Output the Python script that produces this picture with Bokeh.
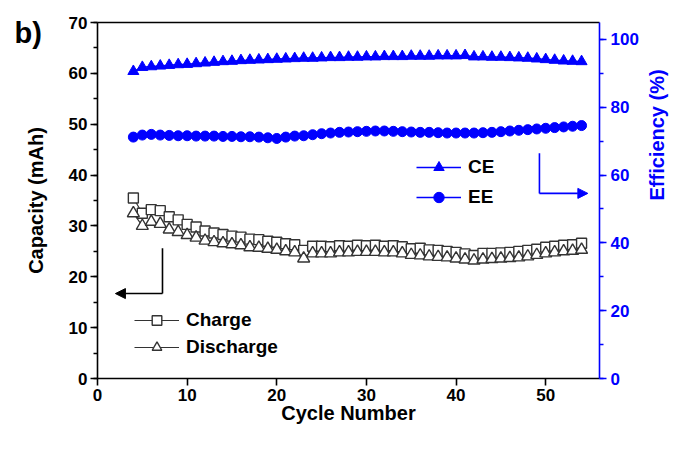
import math
from bokeh.plotting import figure
from bokeh.models import (Range1d, LinearAxis, Legend, LegendItem, Arrow, NormalHead,
                          Label, SingleIntervalTicker, FixedTicker)
from bokeh.embed import file_html
from bokeh.resources import INLINE

cycles = list(range(4, 55))
charge = [35.5, 32.5, 33.2, 33.0, 31.8, 31.2, 30.3, 29.8, 29.0, 28.6,
          28.3, 28.0, 27.8, 27.4, 27.3, 27.0, 26.8, 26.5, 26.3, 25.2,
          26.0, 26.0, 25.9, 26.1, 26.0, 26.2, 26.1, 26.2, 26.0, 26.1,
          25.9, 25.5, 25.6, 25.3, 25.2, 25.0, 24.8, 24.5, 24.2, 24.6,
          24.6, 24.7, 24.8, 25.0, 25.2, 25.4, 25.8, 26.0, 26.2, 26.3, 26.6]
discharge = [32.5, 30.0, 30.8, 30.4, 29.3, 28.8, 28.2, 27.7, 27.1, 26.8,
             26.6, 26.4, 26.2, 25.8, 25.7, 25.5, 25.3, 25.0, 24.8, 23.6,
             24.6, 24.6, 24.6, 24.8, 24.8, 24.9, 24.9, 24.9, 24.8, 24.8,
             24.6, 24.3, 24.2, 24.0, 23.9, 23.8, 23.6, 23.4, 23.2, 23.4,
             23.5, 23.6, 23.7, 23.8, 24.0, 24.3, 24.6, 24.8, 25.0, 25.1, 25.3]
ce = [90.6, 91.8, 92.0, 92.2, 92.4, 92.6, 92.7, 92.9, 93.1, 93.3,
      93.5, 93.6, 93.8, 93.9, 94.0, 94.1, 94.2, 94.3, 94.4, 94.5,
      94.5, 94.6, 94.7, 94.7, 94.8, 94.8, 94.9, 94.9, 95.0, 95.0,
      95.0, 95.1, 95.1, 95.1, 95.2, 95.2, 95.2, 95.3, 94.9, 94.9,
      94.8, 94.8, 94.7, 94.6, 94.5, 94.3, 94.1, 93.9, 93.7, 93.6, 93.5]
ee = [71.2, 71.8, 72.0, 71.8, 71.7, 71.6, 71.6, 71.5, 71.5, 71.5,
      71.4, 71.4, 71.3, 71.3, 71.2, 71.0, 70.8, 71.2, 71.5, 71.6,
      71.9, 72.2, 72.4, 72.6, 72.7, 72.8, 72.9, 73.0, 73.0, 72.9,
      72.8, 72.7, 72.6, 72.6, 72.5, 72.4, 72.4, 72.4, 72.4, 72.5,
      72.6, 72.8, 73.0, 73.2, 73.4, 73.6, 73.8, 74.0, 74.2, 74.4, 74.6]

X_LIM = (0, 56)
Y_LIM = (0, 70)
EFF_LIM = (0, 105)

FONT = "Liberation Sans"
BLUE = "#0000FF"
GREY = "#333333"

# canvas size and where the plotting box should sit (pixels)
W, H = 680, 446
BOX_L, BOX_R, BOX_T, BOX_B = 97, 599, 22, 378

def extend(lo, hi, p_lo, p_hi, size):
    # data range covering the whole canvas so that the box lands at [p_lo, p_hi]
    k = (hi - lo) / (p_hi - p_lo)
    return lo - p_lo * k, hi + (size - p_hi) * k

xr = extend(X_LIM[0], X_LIM[1], BOX_L, BOX_R, W)
yr = extend(Y_LIM[0], Y_LIM[1], H - BOX_B, H - BOX_T, H)
er = extend(EFF_LIM[0], EFF_LIM[1], H - BOX_B, H - BOX_T, H)

p = figure(width=W, height=H, x_range=Range1d(*xr), y_range=Range1d(*yr),
           output_backend="svg", toolbar_location=None, min_border=0)
p.grid.visible = False
p.outline_line_color = None
p.background_fill_color = "white"
p.border_fill_color = "white"
p.extra_y_ranges = {"eff": Range1d(*er)}

def style_axis(ax, color):
    ax.axis_line_color = color
    ax.axis_line_width = 1.6
    ax.major_tick_line_color = color
    ax.major_tick_line_width = 1.6
    ax.minor_tick_line_color = color
    ax.minor_tick_line_width = 1.4
    ax.major_tick_in = 0
    ax.major_tick_out = 7
    ax.minor_tick_in = 0
    ax.minor_tick_out = 4
    ax.major_label_text_font = FONT
    ax.major_label_text_font_style = "bold"
    ax.major_label_text_font_size = "17px"
    ax.major_label_text_color = color
    ax.axis_label_text_font = FONT
    ax.axis_label_text_font_style = "bold"
    ax.axis_label_text_font_size = "20px"
    ax.axis_label_text_color = color

xa = p.xaxis[0]
xa.ticker = SingleIntervalTicker(interval=10, num_minor_ticks=0)
xa.axis_label = "Cycle Number"
xa.fixed_location = Y_LIM[0]
xa.bounds = X_LIM
style_axis(xa, "black")
xa.major_label_standoff = 3
xa.axis_label_standoff = -2

ya = p.yaxis[0]
ya.ticker = SingleIntervalTicker(interval=10, num_minor_ticks=2)
ya.axis_label = "Capacity (mAh)"
ya.fixed_location = X_LIM[0]
ya.bounds = Y_LIM
style_axis(ya, "black")
ya.major_label_standoff = 3
ya.axis_label_standoff = 19

ra = LinearAxis(y_range_name="eff", axis_label="Efficiency (%)",
                ticker=SingleIntervalTicker(interval=20, num_minor_ticks=2),
                fixed_location=X_LIM[1], bounds=EFF_LIM)
style_axis(ra, BLUE)
ra.major_label_standoff = 4
ra.axis_label_standoff = 15
ra.axis_label_orientation = math.pi / 2
p.add_layout(ra, "right")

# top edge of the box
ta = LinearAxis(fixed_location=Y_LIM[1], bounds=X_LIM, ticker=FixedTicker(ticks=[]))
ta.axis_line_color = "black"
ta.axis_line_width = 1.6
ta.major_tick_line_color = None
ta.minor_tick_line_color = None
p.add_layout(ta, "above")

# capacity series
l_c = p.line(cycles, charge, line_color=GREY, line_width=1.2)
s_c = p.scatter(cycles, charge, marker="square", size=10, fill_color="white",
                line_color=GREY, line_width=1.4)
l_d = p.line(cycles, discharge, line_color=GREY, line_width=1.2)
s_d = p.scatter(cycles, discharge, marker="triangle", size=12, fill_color="white",
                line_color=GREY, line_width=1.4)

# efficiency series
l_ce = p.line(cycles, ce, line_color=BLUE, line_width=1.5, y_range_name="eff")
s_ce = p.scatter(cycles, ce, marker="triangle", size=11, fill_color=BLUE,
                 line_color=BLUE, y_range_name="eff")
l_ee = p.line(cycles, ee, line_color=BLUE, line_width=1.5, y_range_name="eff")
s_ee = p.scatter(cycles, ee, marker="circle", size=10, fill_color=BLUE,
                 line_color=BLUE, y_range_name="eff")

def make_legend(items, loc, gh, sp):
    lg = Legend(items=items, location=loc, padding=0, margin=0, spacing=sp,
                glyph_width=45, glyph_height=gh, label_height=gh, label_standoff=7,
                label_text_font=FONT, label_text_font_style="bold",
                label_text_font_size="19px", label_text_color="black",
                border_line_color=None, background_fill_alpha=0)
    return lg

leg1 = make_legend([LegendItem(label="Charge", renderers=[l_c, s_c]),
                    LegendItem(label="Discharge", renderers=[l_d, s_d])],
                   (134, H - 359), 24, 3)
leg2 = make_legend([LegendItem(label="CE", renderers=[l_ce, s_ce]),
                    LegendItem(label="EE", renderers=[l_ee, s_ee])],
                   (416, H - 210), 26, 4)
p.add_layout(leg1)
p.add_layout(leg2)

# indicator arrows
p.add_layout(Arrow(end=None, x_start=7.25, y_start=25.6, x_end=7.25, y_end=16.7,
                   line_color="black", line_width=1.6))
p.add_layout(Arrow(end=NormalHead(size=10, fill_color="black", line_color="black"),
                   x_start=7.25, y_start=16.7, x_end=2.0, y_end=16.7,
                   line_color="black", line_width=1.6))
p.add_layout(Arrow(end=None, x_start=49.3, y_start=66.4, x_end=49.3, y_end=54.6,
                   line_color=BLUE, line_width=1.6, y_range_name="eff"))
p.add_layout(Arrow(end=NormalHead(size=10, fill_color=BLUE, line_color=BLUE),
                   x_start=49.3, y_start=54.6, x_end=54.7, y_end=54.6,
                   line_color=BLUE, line_width=1.6, y_range_name="eff"))

p.add_layout(Label(x=14, y=H - 32, x_units="screen", y_units="screen", text="b)",
                   text_font=FONT, text_font_style="bold",
                   text_font_size="29px", text_color="black", text_baseline="middle"))

open("out.html", "w").write(file_html(p, INLINE))
